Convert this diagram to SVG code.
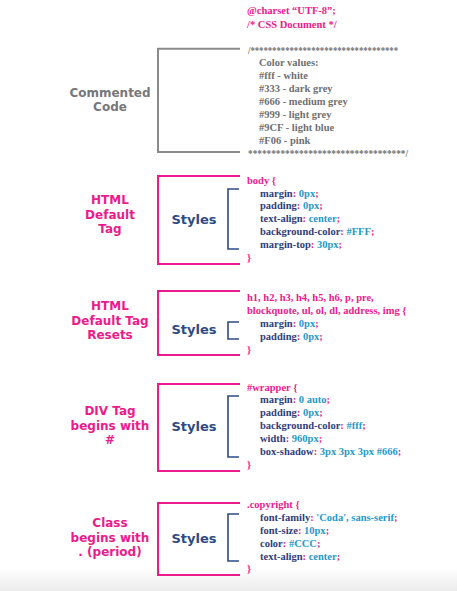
<svg xmlns="http://www.w3.org/2000/svg" width="457" height="591" viewBox="0 0 457 591">
<defs>
<linearGradient id="bg" x1="0" y1="0" x2="0" y2="1">
<stop offset="0" stop-color="#ffffff"/>
<stop offset="1" stop-color="#ebebeb"/>
</linearGradient>
</defs>
<style>
.lbl{font-family:"DejaVu Sans",Verdana,sans-serif;font-weight:bold;font-size:12px;text-anchor:middle;fill:#ec1a8c}
.lblg{fill:#77777a}
.sty{font-family:"DejaVu Sans",Verdana,sans-serif;font-weight:bold;font-size:13px;text-anchor:middle;fill:#2d4a86}
.code{font-family:"Liberation Serif","Times New Roman",serif;font-weight:bold;font-size:10.5px}
.pk{fill:#ec1a8c}
.pr{fill:#2e3d7c}
.vl{fill:#2599c9}
.cm{fill:#6f6f72}
.pb{fill:none;stroke:#ec1a8c;stroke-width:2}
.gb{fill:none;stroke:#8a8a8c;stroke-width:2}
.bb{fill:none;stroke:#2d4a86;stroke-width:1.6}
</style>
<rect x="0" y="0" width="457" height="591" fill="#ffffff"/>
<rect x="0" y="568" width="457" height="23" fill="url(#bg)"/>

<g id="connectors">
<path class="gb" d="M240,48.7 H158 V152 H240"/>
<path class="pb" d="M240,176 H158 V264 H240"/>
<path class="bb" d="M239,189 H228 V249 H239"/>
<path class="pb" d="M240,291 H158 V355 H240"/>
<path class="bb" d="M239,322 H228 V339 H239"/>
<path class="pb" d="M240,384 H158 V471 H240"/>
<path class="bb" d="M239,396 H228 V457 H239"/>
<path class="pb" d="M240,503 H158 V575 H240"/>
<path class="bb" d="M239,514 H228 V561 H239"/>
</g>

<g id="header">
<text class="code pk" x="247" y="14">@charset “UTF-8”;</text>
<text class="code pk" x="247" y="27.5">/* CSS Document */</text>
</g>

<g id="commented-code">
<text class="lbl lblg" x="110" y="97">Commented</text>
<text class="lbl lblg" x="110" y="111">Code</text>
<text class="code cm" x="248" y="54" textLength="150" lengthAdjust="spacingAndGlyphs">/**********************************</text>
<text class="code cm" x="259" y="65.5">Color values:</text>
<text class="code cm" x="259" y="78.6">#fff - white</text>
<text class="code cm" x="259" y="91.7">#333 - dark grey</text>
<text class="code cm" x="259" y="104.7">#666 - medium grey</text>
<text class="code cm" x="259" y="117.8">#999 - light grey</text>
<text class="code cm" x="259" y="130.9">#9CF - light blue</text>
<text class="code cm" x="259" y="144">#F06 - pink</text>
<text class="code cm" x="248" y="157" textLength="160" lengthAdjust="spacingAndGlyphs">**********************************/</text>
</g>

<g id="html-default-tag">
<text class="lbl" x="110" y="204">HTML</text>
<text class="lbl" x="110" y="219">Default</text>
<text class="lbl" x="110" y="233">Tag</text>
<text class="sty" x="194" y="224">Styles</text>
<text class="code pk" x="247" y="183.5">body {</text>
<text class="code" x="260" y="196.5"><tspan class="pr">margin</tspan><tspan class="pk">: </tspan><tspan class="vl">0px</tspan><tspan class="pk">;</tspan></text>
<text class="code" x="260" y="209.3"><tspan class="pr">padding</tspan><tspan class="pk">: </tspan><tspan class="vl">0px</tspan><tspan class="pk">;</tspan></text>
<text class="code" x="260" y="222.1"><tspan class="pr">text-align</tspan><tspan class="pk">: </tspan><tspan class="vl">center</tspan><tspan class="pk">;</tspan></text>
<text class="code" x="260" y="234.9"><tspan class="pr">background-color</tspan><tspan class="pk">: </tspan><tspan class="vl">#FFF</tspan><tspan class="pk">;</tspan></text>
<text class="code" x="260" y="247.7"><tspan class="pr">margin-top</tspan><tspan class="pk">: </tspan><tspan class="vl">30px</tspan><tspan class="pk">;</tspan></text>
<text class="code pk" x="247" y="260.5">}</text>
</g>

<g id="html-default-tag-resets">
<text class="lbl" x="110" y="310">HTML</text>
<text class="lbl" x="110" y="325">Default Tag</text>
<text class="lbl" x="110" y="339">Resets</text>
<text class="sty" x="194" y="334">Styles</text>
<text class="code pk" x="247" y="300.5">h1, h2, h3, h4, h5, h6, p, pre,</text>
<text class="code pk" x="247" y="314">blockquote, ul, ol, dl, address, img {</text>
<text class="code" x="260" y="327"><tspan class="pr">margin</tspan><tspan class="pk">: </tspan><tspan class="vl">0px</tspan><tspan class="pk">;</tspan></text>
<text class="code" x="260" y="340"><tspan class="pr">padding</tspan><tspan class="pk">: </tspan><tspan class="vl">0px</tspan><tspan class="pk">;</tspan></text>
<text class="code pk" x="247" y="353">}</text>
</g>

<g id="div-tag">
<text class="lbl" x="110" y="415">DIV Tag</text>
<text class="lbl" x="110" y="430">begins with</text>
<text class="lbl" x="110" y="444">#</text>
<text class="sty" x="194" y="431">Styles</text>
<text class="code pk" x="247" y="390.5">#wrapper {</text>
<text class="code" x="260" y="403.3"><tspan class="pr">margin</tspan><tspan class="pk">: </tspan><tspan class="vl">0 auto</tspan><tspan class="pk">;</tspan></text>
<text class="code" x="260" y="416.1"><tspan class="pr">padding</tspan><tspan class="pk">: </tspan><tspan class="vl">0px</tspan><tspan class="pk">;</tspan></text>
<text class="code" x="260" y="428.9"><tspan class="pr">background-color</tspan><tspan class="pk">: </tspan><tspan class="vl">#fff</tspan><tspan class="pk">;</tspan></text>
<text class="code" x="260" y="441.7"><tspan class="pr">width</tspan><tspan class="pk">: </tspan><tspan class="vl">960px</tspan><tspan class="pk">;</tspan></text>
<text class="code" x="260" y="454.5"><tspan class="pr">box-shadow</tspan><tspan class="pk">: </tspan><tspan class="vl">3px 3px 3px #666</tspan><tspan class="pk">;</tspan></text>
<text class="code pk" x="247" y="467.5">}</text>
</g>

<g id="class-tag">
<text class="lbl" x="110" y="527">Class</text>
<text class="lbl" x="110" y="542">begins with</text>
<text class="lbl" x="110" y="556">. (period)</text>
<text class="sty" x="194" y="543">Styles</text>
<text class="code pk" x="247" y="508.3">.copyright {</text>
<text class="code" x="260" y="521"><tspan class="pr">font-family</tspan><tspan class="pk">: </tspan><tspan class="vl">'Coda', sans-serif</tspan><tspan class="pk">;</tspan></text>
<text class="code" x="260" y="534"><tspan class="pr">font-size</tspan><tspan class="pk">: </tspan><tspan class="vl">10px</tspan><tspan class="pk">;</tspan></text>
<text class="code" x="260" y="546.8"><tspan class="pr">color</tspan><tspan class="pk">: </tspan><tspan class="vl">#CCC</tspan><tspan class="pk">;</tspan></text>
<text class="code" x="260" y="559.5"><tspan class="pr">text-align</tspan><tspan class="pk">: </tspan><tspan class="vl">center</tspan><tspan class="pk">;</tspan></text>
<text class="code pk" x="247" y="572">}</text>
</g>
</svg>
